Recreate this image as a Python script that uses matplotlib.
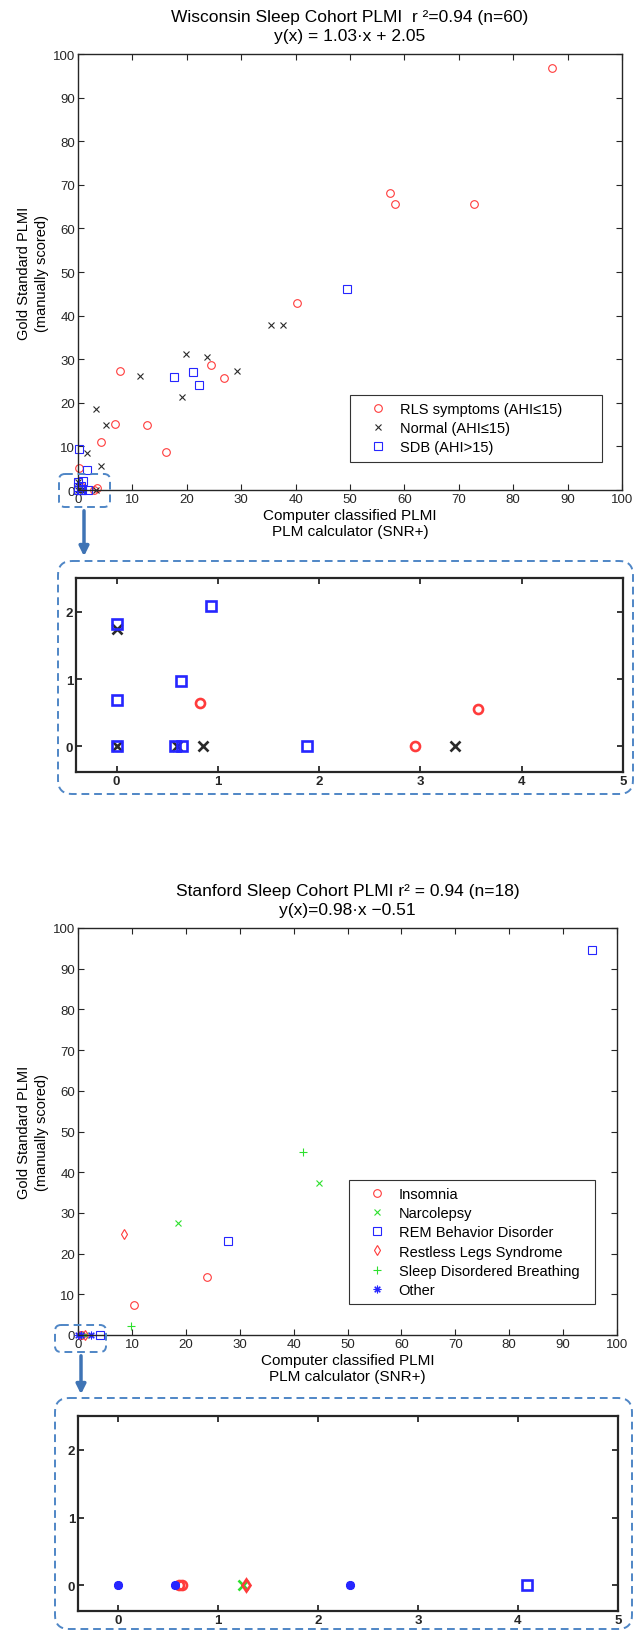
import numpy as np
import matplotlib
matplotlib.use('Agg')
import matplotlib.pyplot as plt
from matplotlib.patches import FancyBboxPatch, FancyArrowPatch

plt.rcParams['font.family'] = ['Liberation Sans', 'DejaVu Sans']

W, H = 635, 1631

# ---- Wisconsin Sleep Cohort: computer classified PLMI vs gold standard PLMI
wsc_rls_x = [87.1, 57.3, 58.2, 72.8, 40.2, 7.8, 24.5, 26.8, 6.8, 12.6, 4.3, 16.2, 0.2, 3.57, 2.95, 0.82]
wsc_rls_y = [96.7, 68.2, 65.7, 65.6, 43.0, 27.4, 28.6, 25.8, 15.1, 14.9, 11.1, 8.8, 5.1, 0.56, 0.0, 0.65]

wsc_norm_x = [35.5, 37.7, 11.35, 19.8, 23.8, 29.2, 19.2, 3.3, 5.1, 1.6, 4.2, 0.0, 0.0, 0.6, 0.85, 3.34]
wsc_norm_y = [37.8, 37.8, 26.1, 31.2, 30.5, 27.4, 21.4, 18.6, 15.0, 8.5, 5.4, 1.74, 0.0, 0.0, 0.0, 0.0]

wsc_sdb_x = [49.4, 17.7, 21.2, 22.3, 0.2, 1.6, 0.0, 0.93, 0.64, 0.0, 0.0, 0.58, 0.65, 1.88]
wsc_sdb_y = [46.0, 26.0, 27.1, 24.0, 9.5, 4.7, 1.82, 2.08, 0.97, 0.69, 0.0, 0.0, 0.0, 0.0]

# ---- Stanford Sleep Cohort
ssc_ins_x = [23.9, 10.4, 0.61, 0.64]
ssc_ins_y = [14.2, 7.3, 0.0, 0.0]
ssc_nar_x = [44.7, 18.6, 1.25]
ssc_nar_y = [37.3, 27.6, 0.0]
ssc_rbd_x = [95.3, 27.8, 4.09]
ssc_rbd_y = [94.5, 23.1, 0.0]
ssc_rls_x = [8.5, 1.28]
ssc_rls_y = [24.7, 0.0]
ssc_sdb_x = [41.7, 9.8]
ssc_sdb_y = [44.9, 2.2]
ssc_oth_x = [0.0, 0.57, 2.32]
ssc_oth_y = [0.0, 0.0, 0.0]

RED = '#ff3b3b'
BLK = '#2a2a2a'
BLU = '#2626ff'
GRN = '#2ee02e'
FRAME = '#4f86c6'

wsc_series = [
    (wsc_rls_x, wsc_rls_y, 'o', RED, 'RLS symptoms (AHI\u226415)'),
    (wsc_norm_x, wsc_norm_y, 'x', BLK, 'Normal (AHI\u226415)'),
    (wsc_sdb_x, wsc_sdb_y, 's', BLU, 'SDB (AHI>15)'),
]
ssc_series = [
    (ssc_ins_x, ssc_ins_y, 'o', RED, 'Insomnia'),
    (ssc_nar_x, ssc_nar_y, 'x', GRN, 'Narcolepsy'),
    (ssc_rbd_x, ssc_rbd_y, 's', BLU, 'REM Behavior Disorder'),
    (ssc_rls_x, ssc_rls_y, 'd', RED, 'Restless Legs Syndrome'),
    (ssc_sdb_x, ssc_sdb_y, '+', GRN, 'Sleep Disordered Breathing'),
    (ssc_oth_x, ssc_oth_y, (8, 2, 0), BLU, 'Other'),
]

fig = plt.figure(figsize=(W / 100, H / 100), dpi=100)


def px_axes(l, t, r, b):
    return fig.add_axes([l / W, 1 - b / H, (r - l) / W, (b - t) / H])


def style(ax, lw, fs, bold=False):
    for s in ax.spines.values():
        s.set_linewidth(lw)
        s.set_color('#262626')
    ax.tick_params(direction='in', top=True, right=True, length=4, width=lw * 0.8,
                   labelsize=fs, pad=2, colors='#262626')
    if bold:
        for lab in ax.get_xticklabels() + ax.get_yticklabels():
            lab.set_fontweight('bold')


def main_panel(ax, series, title, leg_box):
    for x, y, m, c, lab in series:
        ms = 4.2 if m == 'x' else 5.5
        ax.plot(x, y, ls='none', marker=m, ms=ms, mfc='none', mec=c, mew=0.8,
                label=lab, clip_on=False)
    ax.set_xlim(0, 100)
    ax.set_ylim(0, 100)
    ax.set_xticks(np.arange(0, 101, 10))
    ax.set_yticks(np.arange(0, 101, 10))
    style(ax, 1.0, 9.5)
    ax.set_title(title, fontsize=12.5, linespacing=1.35, pad=10)
    ax.set_xlabel('Computer classified PLMI\nPLM calculator (SNR+)', fontsize=11, labelpad=2)
    ax.set_ylabel('Gold Standard PLMI\n(manually scored)', fontsize=10.5, linespacing=1.35, labelpad=3)
    leg = ax.legend(loc='upper left', bbox_to_anchor=leg_box, mode='expand', borderaxespad=0,
                    fontsize=10.5, fancybox=False, framealpha=1, edgecolor='#333333',
                    handlelength=2.8, handletextpad=0.1, labelspacing=0.35, borderpad=0.5)
    leg.get_frame().set_linewidth(0.8)


def inset_panel(ax, series):
    for x, y, m, c, lab in series:
        ax.plot(x, y, ls='none', marker=m, ms=6.5, mfc='none', mec=c, mew=1.9)
    ax.set_xlim(-0.4, 5)
    ax.set_ylim(-0.38, 2.5)
    ax.set_xticks(range(0, 6))
    ax.set_yticks([0, 1, 2])
    style(ax, 1.6, 9.5, bold=True)


ax1 = px_axes(78, 55, 622, 491)
main_panel(ax1, wsc_series,
           'Wisconsin Sleep Cohort PLMI  r \u00b2=0.94 (n=60)\ny(x) = 1.03\u00b7x + 2.05',
           (0.5, 0.218, 0.463, 0.0))
ax1i = px_axes(76, 579, 623, 773)
inset_panel(ax1i, wsc_series)

ax2 = px_axes(78, 929, 617, 1336)
main_panel(ax2, ssc_series,
           'Stanford Sleep Cohort PLMI r\u00b2 = 0.94 (n=18)\ny(x)=0.98\u00b7x \u22120.51',
           (0.503, 0.381, 0.456, 0.0))
ax2i = px_axes(78, 1417, 618, 1612)
inset_panel(ax2i, ssc_series)

# overlay in pixel coordinates for the zoom call-outs
ov = fig.add_axes([0, 0, 1, 1], zorder=10)
ov.set_xlim(0, W)
ov.set_ylim(H, 0)
ov.axis('off')
ov.patch.set_alpha(0)

boxes = [(59, 475, 51, 33, 6), (58, 562, 575, 233, 14),
         (55, 1326, 51, 27, 6), (55, 1399, 577, 231, 14)]
for x0, y0, w, h, r in boxes:
    ov.add_patch(FancyBboxPatch((x0, y0), w, h, boxstyle=f'round,pad=0,rounding_size={r}',
                                fc='none', ec=FRAME, lw=1.4, ls=(0, (4, 2.5))))

for xa, ya, yb in [(84, 509, 560), (81, 1354, 1398)]:
    ov.add_patch(FancyArrowPatch((xa, ya), (xa, yb), arrowstyle='-|>', mutation_scale=14,
                                 lw=2.5, color='#3f74b5'))

fig.savefig('out.png', dpi=100)
